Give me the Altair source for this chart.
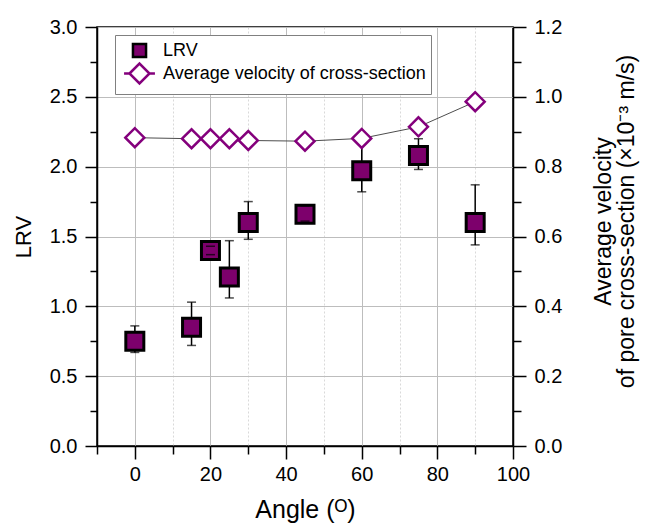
import altair as alt
import pandas as pd

# ---------------- data ----------------
angle = [0, 15, 20, 25, 30, 45, 60, 75, 90]
lrv = [0.75, 0.85, 1.40, 1.21, 1.60, 1.66, 1.97, 2.08, 1.60]
lrv_low = [0.67, 0.72, 1.37, 1.06, 1.48, 1.61, 1.82, 1.98, 1.44]
lrv_high = [0.86, 1.03, 1.43, 1.47, 1.75, 1.72, 2.17, 2.20, 1.87]
velocity = [0.883, 0.880, 0.880, 0.880, 0.875, 0.873, 0.881, 0.914, 0.986]

series_names = ["LRV", "Average velocity of cross-section"]
x_ticks = [-10, 0, 10, 20, 30, 40, 50, 60, 70, 80, 90, 100]
lrv_ticks = [0.0, 0.25, 0.5, 0.75, 1.0, 1.25, 1.5, 1.75, 2.0, 2.25, 2.5, 2.75, 3.0]
vel_ticks = [0.0, 0.1, 0.2, 0.3, 0.4, 0.5, 0.6, 0.7, 0.8, 0.9, 1.0, 1.1, 1.2]

df = pd.DataFrame({"angle": angle, "lrv": lrv, "lo": lrv_low, "hi": lrv_high, "vel": velocity})

FONT = "Liberation Sans"
PURPLE = "#7d006c"
DIAMOND = "#84007c"
NBSP = "\u00a0"

# ---------------- axes ----------------
x_major = "datum.value % 20 === 0"
x_axis = alt.Axis(
    values=x_ticks,
    title="Angle (ᴼ)",
    labelExpr=f"{x_major} ? datum.label : ''",
    tickSize={"condition": {"test": x_major, "value": 13}, "value": 8},
    gridDash={"condition": {"test": x_major, "value": []}, "value": [2, 2]},
    gridColor={"condition": {"test": x_major, "value": "#bdbdbd"}, "value": "#d9d9d9"},
    labelPadding=5,
    titlePadding=13,
    labelFlush=False,
    labelOverlap=False,
)

l_major = "datum.value % 0.5 === 0"
left_axis = alt.Axis(
    values=lrv_ticks,
    format=".1f",
    title="LRV",
    titleFontSize=22,
    labelExpr=f"{l_major} ? datum.label : ''",
    tickSize={"condition": {"test": l_major, "value": 12}, "value": 7},
    gridOpacity={"condition": {"test": l_major, "value": 1}, "value": 0},
    gridColor="#bdbdbd",
    labelPadding=8,
    titlePadding=14,
    labelFlush=False,
    labelOverlap=False,
)

r_major = "round(datum.value * 10) % 2 === 0"
right_axis = alt.Axis(
    orient="right",
    values=vel_ticks,
    format=".1f",
    title=["Average velocity" + NBSP * 4, "of pore cross-section (×10⁻³ m/s)"],
    titleAngle=270,
    titleFontSize=23,
    titleLineHeight=23,
    titleY=194,
    labelExpr=f"{r_major} ? datum.label : ''",
    tickSize={"condition": {"test": r_major, "value": 13}, "value": 8},
    grid=False,
    labelPadding=8,
    titlePadding=31,
    labelFlush=False,
    labelOverlap=False,
)

x_enc = alt.X("angle:Q", scale=alt.Scale(domain=[-10, 100], nice=False, zero=False), axis=x_axis)
lrv_scale = alt.Scale(domain=[0, 3], nice=False)
vel_scale = alt.Scale(domain=[0, 1.2], nice=False)

base = alt.Chart(df)

# ---------------- LRV (left axis) ----------------
err_rules = base.mark_rule(color="black", strokeWidth=1.5).encode(
    x=x_enc,
    y=alt.Y("lo:Q", scale=lrv_scale, axis=left_axis),
    y2="hi:Q",
)

squares = base.mark_point(
    shape="square", size=324, filled=True, fill=PURPLE, stroke="black", strokeWidth=3, opacity=1
).encode(x=x_enc, y=alt.Y("lrv:Q", scale=lrv_scale, axis=left_axis))

caps = base.transform_fold(["lo", "hi"], as_=["end", "val"]).mark_tick(
    orient="horizontal", size=9, thickness=1.5, color="black"
).encode(x=x_enc, y=alt.Y("val:Q", scale=lrv_scale, axis=left_axis))

square_path = "M-0.72,-0.72H0.72V0.72H-0.72Z"
diamond_path = "M-1.7,0H-1.15M-1.1,0L0,-1.1L1.1,0L0,1.1ZM1.15,0H1.7"
legend = alt.Legend(
    title=None,
    orient="none",
    legendX=18,
    legendY=8,
    padding=5,
    symbolOffset=9,
    labelOffset=13,
    rowPadding=-7,
    symbolSize=330,
    symbolStrokeWidth=2.5,
    labelFont=FONT,
    labelFontSize=18,
    labelColor="black",
    labelLimit=400,
    strokeColor="#808080",
    fillColor="white",
)
legend_layer = base.transform_calculate(series="'LRV'").transform_filter("false").mark_point(
    size=330, strokeWidth=2.5, opacity=1
).encode(
    x=x_enc,
    y=alt.Y("lrv:Q", scale=lrv_scale, axis=left_axis),
    shape=alt.Shape("series:N", scale=alt.Scale(domain=series_names, range=[square_path, diamond_path]), legend=legend),
    fill=alt.Fill("series:N", scale=alt.Scale(domain=series_names, range=[PURPLE, "white"]), legend=legend),
    stroke=alt.Stroke("series:N", scale=alt.Scale(domain=series_names, range=["black", DIAMOND]), legend=legend),
)

left = alt.layer(err_rules, squares, caps, legend_layer)

# ---------------- velocity (right axis) ----------------
vel_line = base.mark_line(color="#4d4d4d", strokeWidth=1).encode(
    x=x_enc, y=alt.Y("vel:Q", scale=vel_scale, axis=right_axis)
)
diamonds = base.mark_point(
    shape="diamond", size=360, filled=True, fill="white", stroke=DIAMOND, strokeWidth=2.5, opacity=1
).encode(x=x_enc, y=alt.Y("vel:Q", scale=vel_scale, axis=right_axis))

right = alt.layer(vel_line, diamonds)

chart = (
    alt.layer(left, right)
    .resolve_scale(y="independent")
    .properties(
        width=416,
        height=419,
        autosize=alt.AutoSizeParams(type="none"),
        padding={"left": 89, "top": 19, "right": 128, "bottom": 78},
        background="white",
    )
    .configure_view(stroke="black", strokeWidth=1.5)
    .configure_axis(
        domainColor="black",
        domainWidth=1.5,
        tickColor="black",
        tickWidth=1.5,
        labelFont=FONT,
        labelFontSize=20,
        labelColor="black",
        titleFont=FONT,
        titleFontSize=25,
        titleFontWeight="normal",
        titleColor="black",
    )
)

chart.save("out.html", embed_options={"renderer": "svg", "actions": False})
